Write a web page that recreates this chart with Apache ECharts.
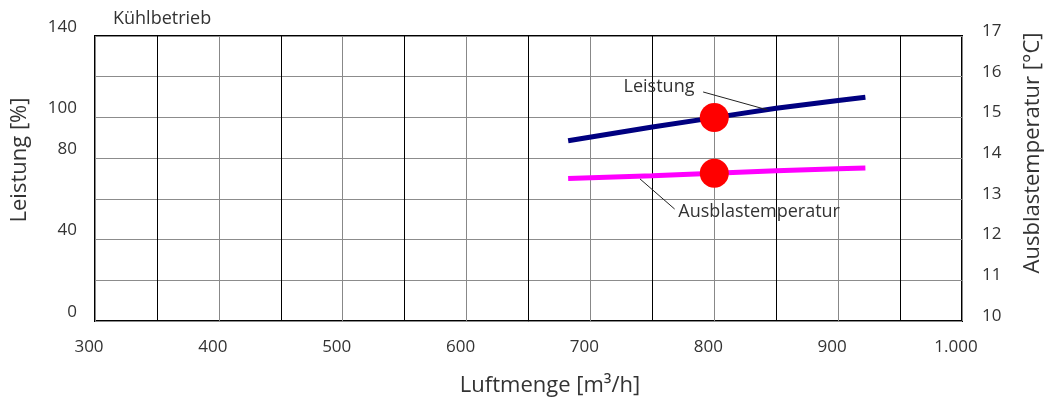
<!DOCTYPE html>
<html lang="de">
<head>
    <meta charset="UTF-8">
    <title>Kühlbetrieb</title>
    <style type="text/css">
        html, body { margin: 0; padding: 0; background: #fff; }
        #chart { width: 1049px; height: 407px; }
    </style>
    <script src="https://cdn.jsdelivr.net/npm/echarts@6/dist/echarts.min.js"></script>
</head>
<body>
<div id="chart"></div>
<script type="application/javascript">
    // values
    var airflow = [682, 750, 800, 850, 900, 922];
    var leistung = [88.5, 95.3, 99.9, 104.5, 108.3, 109.9];
    var temperatur = [13.5, 13.57, 13.63, 13.69, 13.74, 13.76];

    var nominalFlow = 800, nominalLeistung = 100, nominalTemp = 13.63;

    var leftLabels = [0, 40, 80, 100, 140];
    var xLabels = [300, 400, 500, 600, 700, 800, 900, 1000];

    // annotation leaders, in data units (x, left axis % / right axis °C)
    var leistungLeader = [[791, 112.5], [843, 103.7]];
    var tempLeader = [[768, 12.75], [740, 13.49]];
    var leistungTextAt = [784, 115];
    var tempTextAt = [771, 12.68];

    var font = '"Open Sans", "Noto Sans", sans-serif';
    var textColor = '#333';

    function pairs(xs, ys) {
        var out = [];
        for (var i = 0; i < xs.length; i++) out.push([xs[i], ys[i]]);
        return out;
    }

    var chart = echarts.init(document.getElementById('chart'));
    var option = {
        animation: false,
        textStyle: { fontFamily: font },
        title: {
            text: 'Kühlbetrieb', left: 108, top: 5,
            textStyle: { fontFamily: font, fontSize: 18, fontWeight: 'normal', color: textColor }
        },
        grid: {
            left: 95, right: 87, top: 36, bottom: 86,
            show: true, borderColor: '#000', borderWidth: 2
        },
        xAxis: {
            type: 'value', min: 300, max: 1000, interval: 50,
            axisLine: { show: false }, axisTick: { show: false },
            splitLine: { lineStyle: { color: ['#888', '#000'], width: 1 } },
            axisLabel: {
                fontSize: 17, color: textColor, margin: 18, padding: [0, 12, 0, 0],
                formatter: function (v) {
                    if (xLabels.indexOf(v) < 0) return '';
                    return v >= 1000 ? '1.000' : String(v);
                }
            }
        },
        yAxis: [{
            type: 'value', min: 0, max: 140, interval: 20,
            axisLine: { show: false }, axisTick: { show: false },
            splitLine: { lineStyle: { color: '#8c8c8c', width: 1 } },
            axisLabel: {
                fontSize: 17, color: textColor, margin: 18,
                verticalAlign: 'bottom', lineHeight: 18,
                formatter: function (v) { return leftLabels.indexOf(v) >= 0 ? String(v) : ''; }
            }
        }, {
            type: 'value', min: 10, max: 17, interval: 1,
            axisLine: { show: false }, axisTick: { show: false },
            splitLine: { show: false },
            axisLabel: {
                fontSize: 17, color: textColor, margin: 20,
                verticalAlign: 'bottom', lineHeight: 10
            }
        }],
        series: [{
            name: 'Leistung', type: 'line', yAxisIndex: 0, symbol: 'none',
            lineStyle: { color: '#000080', width: 5 },
            data: pairs(airflow, leistung)
        }, {
            name: 'Ausblastemperatur', type: 'line', yAxisIndex: 1, symbol: 'none',
            lineStyle: { color: '#ff00ff', width: 5 },
            data: pairs(airflow, temperatur)
        }, {
            type: 'line', yAxisIndex: 0, symbol: 'none', silent: true,
            lineStyle: { color: '#222', width: 1 }, data: leistungLeader
        }, {
            type: 'line', yAxisIndex: 1, symbol: 'none', silent: true,
            lineStyle: { color: '#222', width: 1 }, data: tempLeader
        }, {
            type: 'scatter', yAxisIndex: 0, symbolSize: 29, z: 5,
            itemStyle: { color: '#ff0000', opacity: 1 },
            data: [[nominalFlow, nominalLeistung]]
        }, {
            type: 'scatter', yAxisIndex: 1, symbolSize: 29, z: 5,
            itemStyle: { color: '#ff0000', opacity: 1 },
            data: [[nominalFlow, nominalTemp]]
        }]
    };
    chart.setOption(option);

    var lp = chart.convertToPixel({ xAxisIndex: 0, yAxisIndex: 0 }, leistungTextAt);
    var tp = chart.convertToPixel({ xAxisIndex: 0, yAxisIndex: 1 }, tempTextAt);
    chart.setOption({
        graphic: [{
            type: 'text', x: lp[0], y: lp[1],
            style: { text: 'Leistung', font: '18px ' + font, fill: textColor, textAlign: 'right', textVerticalAlign: 'middle' }
        }, {
            type: 'text', x: tp[0], y: tp[1],
            style: { text: 'Ausblastemperatur', font: '18px ' + font, fill: textColor, textAlign: 'left', textVerticalAlign: 'middle' }
        }, {
            type: 'text', x: 20, y: 160, rotation: Math.PI / 2,
            style: { text: 'Leistung [%]', font: '22px ' + font, fill: textColor, textAlign: 'center', textVerticalAlign: 'middle' }
        }, {
            type: 'text', x: 1033, y: 153, rotation: Math.PI / 2,
            style: { text: 'Ausblastemperatur [°C]', font: '22px ' + font, fill: textColor, textAlign: 'center', textVerticalAlign: 'middle' }
        }, {
            type: 'text', x: 550, y: 386,
            style: { text: 'Luftmenge [m³/h]', font: '22px ' + font, fill: textColor, textAlign: 'center', textVerticalAlign: 'middle' }
        }]
    });
</script>
</body>
</html>
